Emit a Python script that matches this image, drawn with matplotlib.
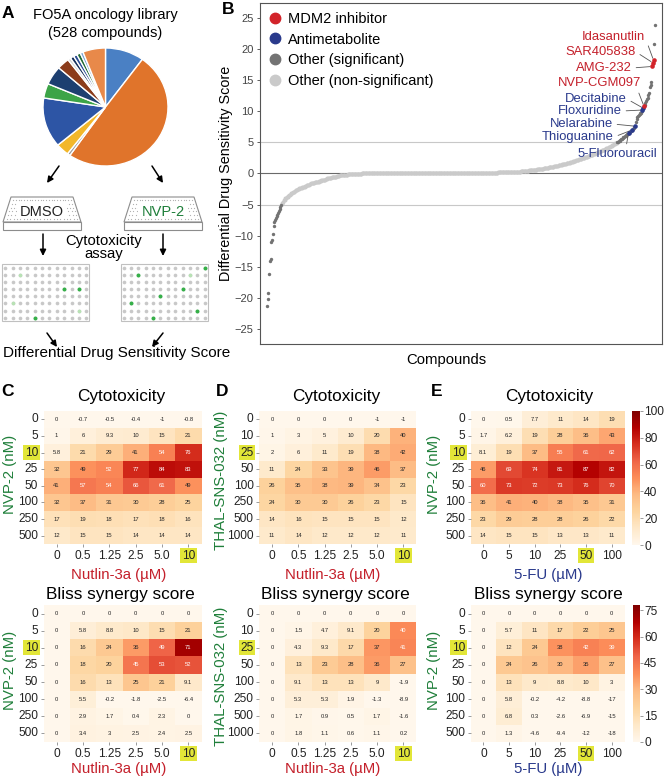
import matplotlib
matplotlib.use('Agg')
import matplotlib.pyplot as plt
import numpy as np
import seaborn as sns
from matplotlib.patches import Polygon, Rectangle
from matplotlib.lines import Line2D

plt.rcParams['font.family'] = ['Liberation Sans', 'DejaVu Sans']

# ---------------- DATA ----------------
# Panel A: library composition (counts per class, clockwise from 12 o'clock)
pie_counts = [53, 262, 4, 18, 72, 21, 27, 17, 4, 5, 5, 5, 4, 31]
pie_colors = ['#4a80c4', '#e0742b', '#9a9a9a', '#f2b72a', '#2d55a5', '#3ca447',
              '#1d3f70', '#8b3c1b', '#d4d4d4', '#17305c', '#2a4d95', '#1f6a35',
              '#7aa3d4', '#e8894a']
# wells (col,row) hit in the two example plates
dmso_hits = [(8, 3), (10, 3), (4, 7)]
dmso_weak = [(2, 1), (1, 5), (10, 6)]
nvp_hits = [(11, 0), (2, 1), (8, 3), (5, 4), (1, 5), (10, 6), (4, 7)]
nvp_weak = [(9, 1)]

# Panel B: sorted differential drug sensitivity scores (528 compounds)
dds_scores = [
    -21.3, -20.2, -19.2, -16.1, -14.0, -13.7, -11.0, -10.7, -9.8, -8.5,
    -7.8, -7.5, -7.2, -6.9, -6.6, -6.3, -6.0, -5.7, -5.4, -5.1,
    -4.9, -4.7, -4.5, -4.3, -4.2, -4.0, -3.9, -3.8, -3.7, -3.6,
    -3.5, -3.4, -3.3, -3.2, -3.1, -3.0, -2.9, -2.9, -2.8, -2.7,
    -2.6, -2.6, -2.5, -2.5, -2.4, -2.4, -2.3, -2.3, -2.2, -2.2,
    -2.1, -2.1, -2.0, -2.0, -1.9, -1.9, -1.8, -1.8, -1.7, -1.7,
    -1.6, -1.6, -1.5, -1.5, -1.5, -1.4, -1.4, -1.4, -1.3, -1.3,
    -1.3, -1.2, -1.2, -1.2, -1.1, -1.1, -1.1, -1.0, -1.0, -1.0,
    -0.9, -0.9, -0.8, -0.8, -0.8, -0.7, -0.7, -0.7, -0.6, -0.6,
    -0.6, -0.5, -0.5, -0.5, -0.5, -0.4, -0.4, -0.4, -0.4, -0.3,
    -0.3, -0.3, -0.3, -0.3, -0.2, -0.2, -0.2, -0.2, -0.2, -0.2,
    -0.15, -0.15, -0.15, -0.15, -0.12, -0.12, -0.12, -0.1, -0.1, -0.1,
    -0.1, -0.08, -0.08, -0.06, -0.05, -0.04, -0.03, -0.02, -0.01, 0.0,
    0.0, 0.0, 0.0, 0.0, 0.0, 0.0, 0.0, 0.0, 0.0, 0.0,
    0.0, 0.0, 0.0, 0.0, 0.0, 0.0, 0.0, 0.0, 0.0, 0.0,
    0.01, 0.01, 0.01, 0.01, 0.01, 0.01, 0.01, 0.01, 0.01, 0.01,
    0.02, 0.02, 0.02, 0.02, 0.02, 0.02, 0.02, 0.02, 0.02, 0.02,
    0.03, 0.03, 0.03, 0.03, 0.03, 0.03, 0.03, 0.03, 0.03, 0.03,
    0.04, 0.04, 0.04, 0.04, 0.04, 0.04, 0.04, 0.04, 0.04, 0.04,
    0.05, 0.05, 0.05, 0.05, 0.05, 0.05, 0.05, 0.05, 0.05, 0.05,
    0.06, 0.06, 0.06, 0.06, 0.06, 0.06, 0.06, 0.06, 0.06, 0.06,
    0.06, 0.06, 0.06, 0.06, 0.06, 0.07, 0.07, 0.07, 0.07, 0.07,
    0.07, 0.07, 0.07, 0.07, 0.07, 0.07, 0.07, 0.07, 0.07, 0.07,
    0.08, 0.08, 0.08, 0.08, 0.08, 0.08, 0.08, 0.08, 0.08, 0.08,
    0.09, 0.09, 0.09, 0.09, 0.09, 0.09, 0.09, 0.09, 0.09, 0.09,
    0.10, 0.10, 0.10, 0.10, 0.10, 0.10, 0.10, 0.10, 0.10, 0.10,
    0.11, 0.11, 0.11, 0.11, 0.11, 0.11, 0.11, 0.11, 0.11, 0.11,
    0.12, 0.12, 0.12, 0.12, 0.12, 0.12, 0.12, 0.12, 0.12, 0.12,
    0.13, 0.13, 0.13, 0.13, 0.13, 0.13, 0.13, 0.13, 0.13, 0.13,
    0.14, 0.14, 0.14, 0.14, 0.14, 0.14, 0.14, 0.14, 0.14, 0.14,
    0.15, 0.15, 0.15, 0.15, 0.15, 0.15, 0.15, 0.15, 0.15, 0.15,
    0.16, 0.16, 0.16, 0.16, 0.17, 0.17, 0.17, 0.17, 0.17, 0.17,
    0.18, 0.18, 0.18, 0.18, 0.18, 0.19, 0.19, 0.19, 0.19, 0.19,
    0.20, 0.20, 0.20, 0.20, 0.20, 0.20, 0.21, 0.22, 0.23, 0.24,
    0.25, 0.27, 0.28, 0.30, 0.31, 0.33, 0.34, 0.36, 0.37, 0.39,
    0.40, 0.42, 0.43, 0.45, 0.46, 0.48, 0.49, 0.51, 0.52, 0.54,
    0.55, 0.57, 0.58, 0.60, 0.61, 0.63, 0.64, 0.66, 0.67, 0.69,
    0.70, 0.72, 0.74, 0.76, 0.78, 0.80, 0.82, 0.84, 0.86, 0.88,
    0.90, 0.92, 0.95, 0.97, 1.00, 1.02, 1.05, 1.07, 1.10, 1.12,
    1.15, 1.17, 1.20, 1.22, 1.25, 1.27, 1.30, 1.33, 1.36, 1.39,
    1.42, 1.45, 1.48, 1.51, 1.54, 1.57, 1.60, 1.63, 1.66, 1.69,
    1.72, 1.76, 1.80, 1.84, 1.88, 1.92, 1.96, 2.00, 2.04, 2.08,
    2.12, 2.16, 2.20, 2.24, 2.28, 2.32, 2.36, 2.40, 2.44, 2.48,
    2.52, 2.56, 2.60, 2.64, 2.68, 2.72, 2.76, 2.80, 2.85, 2.90,
    2.95, 3.00, 3.05, 3.10, 3.15, 3.20, 3.25, 3.30, 3.35, 3.40,
    3.45, 3.50, 3.55, 3.60, 3.65, 3.70, 3.75, 3.80, 3.85, 3.90,
    3.96, 4.02, 4.08, 4.14, 4.20, 4.26, 4.32, 4.38, 4.44, 4.50,
    4.60, 4.70, 4.78, 4.85, 4.90, 4.95,
    5.0, 5.1, 5.2, 5.3, 5.4, 5.5, 5.6, 5.7, 5.8, 5.9,
    6.0, 6.1, 6.2, 6.3, 6.4, 6.5, 6.6, 6.7, 6.8, 6.9,
    7.0, 7.2, 7.3, 7.4, 7.6, 8.2, 8.8, 9.0, 9.2, 9.4,
    9.5, 9.7, 9.8, 10.0, 10.2, 10.5, 10.8, 11.0, 11.3, 11.6,
    11.9, 12.2, 12.6, 13.0, 13.9, 14.3, 14.7, 17.2, 17.8, 18.2,
    20.8, 23.9]
mdm2_names = ['Idasanutlin', 'SAR405838', 'AMG-232', 'NVP-CGM097']
mdm2_rank = [525, 524, 523, 512]
antimet_names = ['Decitabine', 'Floxuridine', 'Nelarabine', 'Thioguanine', '5-Fluorouracil']
antimet_rank = [511, 510, 500, 496, 491]

# Panels C-E: heatmaps
nvp_doses = ['0', '5', '10', '25', '50', '100', '250', '500']
thal_doses = ['0', '10', '25', '50', '100', '250', '500', '1000']
nutlin_doses = ['0', '0.5', '1.25', '2.5', '5.0', '10']
fu_doses = ['0', '5', '10', '25', '50', '100']

c_cyto = [[0, -0.7, -0.5, -0.4, -1, -0.8],
          [1, 6, 9.3, 10, 15, 21],
          [5.8, 21, 29, 41, 54, 76],
          [32, 49, 52, 77, 84, 83],
          [41, 57, 54, 66, 61, 49],
          [32, 37, 31, 30, 28, 25],
          [17, 19, 18, 17, 18, 16],
          [12, 15, 15, 14, 14, 14]]
d_cyto = [[0, 0, 0, 0, -1, -1],
          [1, 3, 5, 10, 20, 40],
          [2, 6, 11, 19, 38, 42],
          [11, 24, 33, 39, 46, 37],
          [26, 35, 38, 39, 34, 23],
          [24, 30, 30, 26, 23, 15],
          [14, 16, 15, 15, 15, 12],
          [11, 14, 12, 12, 12, 11]]
e_cyto = [[0, 0.5, 7.7, 11, 14, 19],
          [1.7, 6.2, 19, 28, 36, 43],
          [8.1, 19, 37, 55, 61, 62],
          [46, 69, 74, 81, 87, 82],
          [60, 73, 72, 73, 76, 70],
          [36, 41, 40, 38, 35, 31],
          [23, 29, 28, 28, 26, 22],
          [14, 15, 15, 13, 13, 11]]
c_bliss = [[0, 0, 0, 0, 0, 0],
           [0, 5.8, 8.8, 10, 15, 21],
           [0, 16, 24, 36, 49, 71],
           [0, 18, 20, 45, 53, 52],
           [0, 16, 13, 25, 21, 9.1],
           [0, 5.5, -0.2, -1.8, -2.5, -6.4],
           [0, 2.9, 1.7, 0.4, 2.3, 0],
           [0, 3.4, 3, 2.5, 2.4, 2.5]]
d_bliss = [[0, 0, 0, 0, 0, 0],
           [0, 1.5, 4.7, 9.1, 20, 40],
           [0, 4.3, 9.3, 17, 37, 41],
           [0, 13, 23, 28, 36, 27],
           [0, 9.1, 13, 13, 9, -1.9],
           [0, 5.3, 5.3, 1.9, -1.3, -8.9],
           [0, 1.7, 0.9, 0.5, 1.7, -1.6],
           [0, 1.8, 1.1, 0.6, 1.1, 0.2]]
e_bliss = [[0, 0, 0, 0, 0, 0],
           [0, 5.7, 11, 17, 22, 25],
           [0, 12, 24, 38, 42, 39],
           [0, 24, 26, 30, 35, 27],
           [0, 13, 9, 8.8, 10, 3],
           [0, 5.8, -0.2, -4.2, -8.8, -17],
           [0, 6.8, 0.3, -2.6, -6.9, -15],
           [0, 1.3, -4.6, -9.4, -12, -18]]

# ---------------- STYLE / LAYOUT ----------------
W, H = 665, 778
fig = plt.figure(figsize=(W / 100, H / 100), dpi=100)

RED = '#c4202b'
NAVY = '#2a3a8c'
GREEN = '#1f7f3a'
HL = '#e2e638'


def ax_px(left, top, right, bottom):
    return fig.add_axes([left / W, 1 - bottom / H, (right - left) / W, (bottom - top) / H])


def ftext(x, y, s, **kw):
    kw.setdefault('ha', 'center')
    kw.setdefault('va', 'center')
    return fig.text(x / W, 1 - y / H, s, **kw)


def ff(x, y):
    return (x / W, 1 - y / H)


# ---------------- Panel A ----------------
axA = ax_px(0, 0, 240, 370)
axA.set_xlim(0, 240)
axA.set_ylim(370, 0)
axA.axis('off')

ftext(105, 15, 'FO5A oncology library', fontsize=10.5)
ftext(105, 33, '(528 compounds)', fontsize=10.5)


def plate(x0, label, color):
    top_y, bot_y, strip = 197, 222, 230
    w = 78
    ins = 8
    outer = [(x0 + ins, top_y), (x0 + w - ins, top_y), (x0 + w, bot_y), (x0, bot_y)]
    axA.add_patch(Polygon(outer, closed=True, fc='white', ec='#8c8c8c', lw=0.8, zorder=2))
    axA.add_patch(Rectangle((x0, bot_y), w, strip - bot_y, fc='white', ec='#8c8c8c', lw=0.8, zorder=2))
    xs, ys = [], []
    for r in range(6):
        fy = (r + 0.8) / 6.6
        y = top_y + fy * (bot_y - top_y)
        xl = x0 + ins * (1 - fy) + 3
        xr = x0 + w - ins * (1 - fy) - 3
        for c in range(22):
            xs.append(xl + (xr - xl) * c / 21)
            ys.append(y)
    axA.scatter(xs, ys, s=0.8, c='#b0b0b0', lw=0, zorder=3)
    axA.add_patch(Rectangle((x0 + 14, top_y + 6), w - 28, 15, fc='white', ec='none', zorder=4))
    axA.text(x0 + w / 2, 212, label, color=color, fontsize=10.5, ha='center', va='center', zorder=5)


plate(3, 'DMSO', '#222222')
plate(124, 'NVP-2', GREEN)

ftext(104, 241, 'Cytotoxicity', fontsize=10.7)
ftext(104, 254, 'assay', fontsize=10.7)


def dot_grid(x0, x1, y0, y1, dx0, hits, weak):
    axA.add_patch(Rectangle((x0, y0), x1 - x0, y1 - y0, fc='white', ec='#c0c0c0', lw=0.8))
    xs = dx0 + np.arange(12) * 7.38
    ys = 267.7 + np.arange(8) * 7.14
    gx, gy = np.meshgrid(xs, ys)
    axA.scatter(gx.ravel(), gy.ravel(), s=7, c='#c8c8c8', lw=0, zorder=3)
    if hits:
        axA.scatter([xs[c] for c, r in hits], [ys[r] for c, r in hits], s=8, c='#35b048', lw=0, zorder=4)
    if weak:
        axA.scatter([xs[c] for c, r in weak], [ys[r] for c, r in weak], s=7, c='#b8e2b4', lw=0, zorder=4)


dot_grid(2, 89, 264, 321, 5.2, dmso_hits, dmso_weak)
dot_grid(121, 208, 264, 321, 123.5, nvp_hits, nvp_weak)

arrow_kw = dict(arrowstyle='-|>', color='black', lw=1.1, mutation_scale=9, shrinkA=0, shrinkB=0)
for (x1, y1, x2, y2) in [(59, 166, 47, 183), (152, 166, 163, 183), (43, 234, 43, 256),
                         (163, 234, 163, 256), (47, 333, 57, 347), (163, 333, 152, 347)]:
    axA.annotate('', xy=(x2, y2), xytext=(x1, y1), arrowprops=arrow_kw)

ftext(117, 353, 'Differential Drug Sensitivity Score', fontsize=11)

axp = ax_px(43, 48, 168, 166)
axp.pie(pie_counts, colors=pie_colors, startangle=90, counterclock=False,
        wedgeprops=dict(edgecolor='white', linewidth=1.0))
axp.set_aspect('auto')
axp.set_xlim(-1.0, 1.0)
axp.set_ylim(-1.0, 1.0)

# ---------------- Panel B ----------------
axB = ax_px(260, 3, 662, 344)
scores = np.array(dds_scores)
idx = np.arange(len(scores))
special = np.isin(idx, mdm2_rank + antimet_rank)
sig = np.abs(scores) >= 5
axB.axhline(0, color='#6a6a6a', lw=0.8, zorder=1)
axB.axhline(5, color='#c8c8c8', lw=0.8, zorder=1)
axB.axhline(-5, color='#c8c8c8', lw=0.8, zorder=1)
m_ns = (~sig) & (~special)
m_s = sig & (~special)
axB.scatter(idx[m_ns], scores[m_ns], s=8, c='#cacaca', lw=0, zorder=2)
axB.scatter(idx[m_s], scores[m_s], s=6, c='#737373', lw=0, zorder=3)
axB.scatter(antimet_rank, scores[antimet_rank], s=11, c=NAVY, lw=0, zorder=4)
axB.scatter(mdm2_rank, scores[mdm2_rank], s=11, c='#d2232a', lw=0, zorder=4)
axB.set_xlim(-9.5, 536.5)
axB.set_ylim(-27.4, 27.4)
axB.set_xticks([])
axB.set_yticks([-25, -20, -15, -10, -5, 0, 5, 10, 15, 20, 25])
axB.tick_params(axis='y', labelsize=8, colors='#444444', length=2.5, width=0.6, pad=2)
for sp in axB.spines.values():
    sp.set_color('#555555')
    sp.set_linewidth(0.8)

handles = [Line2D([], [], ls='', marker='o', ms=7.5, mfc=c, mec=c)
           for c in ['#d2232a', NAVY, '#737373', '#cacaca']]
axB.legend(handles, ['MDM2 inhibitor', 'Antimetabolite', 'Other (significant)', 'Other (non-significant)'],
           loc='upper left', bbox_to_anchor=ff(268, 12), bbox_transform=fig.transFigure,
           frameon=False, fontsize=10.5, handlelength=0.9, handletextpad=0.45,
           labelspacing=0.45, borderaxespad=0, borderpad=0)

lab_pos_mdm2 = [(645, 37, (1, 0.5)), (636, 52, (1, 0.5)), (632, 68, (1, 0.5)), (641, 83, (0.95, 0.1))]
lab_pos_anti = [(627, 99, (1, 0.5)), (622, 111, (1, 0.5)), (613, 124, (1, 0.5)),
                (614, 137, (1, 0.5)), (657, 154, (0.61, 1.0))]
line_kw = dict(arrowstyle='-', color='#555555', lw=0.6, shrinkA=1, shrinkB=1.5)
for name, r, (tx, ty, rp) in zip(mdm2_names, mdm2_rank, lab_pos_mdm2):
    axB.annotate(name, xy=(r, scores[r]), xytext=ff(tx, ty), textcoords='figure fraction',
                 ha='right', va='center', fontsize=9.4, color=RED,
                 arrowprops=dict(relpos=rp, **line_kw))
for name, r, (tx, ty, rp) in zip(antimet_names, antimet_rank, lab_pos_anti):
    axB.annotate(name, xy=(r, scores[r]), xytext=ff(tx, ty), textcoords='figure fraction',
                 ha='right', va='center', fontsize=9.4, color=NAVY,
                 arrowprops=dict(relpos=rp, **line_kw))

ftext(226, 173, 'Differential Drug Sensitivity Score', rotation=90, fontsize=10.4)
ftext(446, 360, 'Compounds', fontsize=10.7)

# ---------------- Panels C-E ----------------


def draw_heat(box, data, rows, cols, vmax, hl_row, hl_col, cbox=None, cticks=None):
    ax = ax_px(*box)
    cax = ax_px(*cbox) if cbox else None
    sns.heatmap(np.array(data, float), ax=ax, cmap='OrRd', vmin=0, vmax=vmax,
                annot=True, fmt='.2g', annot_kws={'fontsize': 4.2},
                cbar=cax is not None, cbar_ax=cax, xticklabels=cols, yticklabels=rows)
    ax.tick_params(length=2.5, width=0.6, color='#8a8a8a', labelsize=8.6, pad=1.5, labelcolor='#222222')
    plt.setp(ax.get_yticklabels(), rotation=0, va='center')
    plt.setp(ax.get_xticklabels(), rotation=0)
    ax.get_yticklabels()[hl_row].set_bbox(dict(fc=HL, ec='none', pad=1.2))
    ax.get_xticklabels()[hl_col].set_bbox(dict(fc=HL, ec='none', pad=1.2))
    if cax is not None:
        cax.set_yticks(cticks)
        cax.tick_params(labelsize=8.6, length=2.5, width=0.6, color='#8a8a8a', labelcolor='#222222', pad=0.5)
    return ax


top_row = (411, 544)
bot_row = (605, 742)
cols_x = {'C': (43.5, 201.5), 'D': (259, 416.5), 'E': (470.5, 624.5)}

draw_heat((cols_x['C'][0], top_row[0], cols_x['C'][1], top_row[1]), c_cyto, nvp_doses, nutlin_doses, 100, 2, 5)
draw_heat((cols_x['D'][0], top_row[0], cols_x['D'][1], top_row[1]), d_cyto, thal_doses, nutlin_doses, 100, 2, 5)
draw_heat((cols_x['E'][0], top_row[0], cols_x['E'][1], top_row[1]), e_cyto, nvp_doses, fu_doses, 100, 2, 4,
          cbox=(632, 411, 640, 545), cticks=[0, 20, 40, 60, 80, 100])
draw_heat((cols_x['C'][0], bot_row[0], cols_x['C'][1], bot_row[1]), c_bliss, nvp_doses, nutlin_doses, 78, 2, 5)
draw_heat((cols_x['D'][0], bot_row[0], cols_x['D'][1], bot_row[1]), d_bliss, thal_doses, nutlin_doses, 78, 2, 5)
draw_heat((cols_x['E'][0], bot_row[0], cols_x['E'][1], bot_row[1]), e_bliss, nvp_doses, fu_doses, 78, 2, 4,
          cbox=(633, 605, 640, 742), cticks=[0, 15, 30, 45, 60, 75])

for key, xc in [('C', 121), ('D', 336), ('E', 549)]:
    ftext(xc, 397, 'Cytotoxicity', fontsize=12.4)
    ftext(xc - 1, 594, 'Bliss synergy score', fontsize=12.4)

ftext(119, 575, 'Nutlin-3a (\u00b5M)', fontsize=10.8, color=RED)
ftext(119, 769, 'Nutlin-3a (\u00b5M)', fontsize=10.8, color=RED)
ftext(333, 575, 'Nutlin-3a (\u00b5M)', fontsize=10.8, color=RED)
ftext(333, 769, 'Nutlin-3a (\u00b5M)', fontsize=10.8, color=RED)
ftext(548, 575, '5-FU (\u00b5M)', fontsize=10.8, color=NAVY)
ftext(548, 769, '5-FU (\u00b5M)', fontsize=10.8, color=NAVY)

ftext(10, 474, 'NVP-2 (nM)', rotation=90, fontsize=10.8, color=GREEN)
ftext(10, 670, 'NVP-2 (nM)', rotation=90, fontsize=10.8, color=GREEN)
ftext(221, 480, 'THAL-SNS-032 (nM)', rotation=90, fontsize=10.8, color=GREEN)
ftext(221, 676, 'THAL-SNS-032 (nM)', rotation=90, fontsize=10.8, color=GREEN)
ftext(434, 474, 'NVP-2 (nM)', rotation=90, fontsize=10.8, color=GREEN)
ftext(434, 670, 'NVP-2 (nM)', rotation=90, fontsize=10.8, color=GREEN)

for lab, x, y in [('A', 8, 13), ('B', 228, 10), ('C', 7, 391), ('D', 222, 391), ('E', 437, 391)]:
    ftext(x, y, lab, fontsize=12.5, fontweight='bold')

fig.savefig('out.png', dpi=100)
